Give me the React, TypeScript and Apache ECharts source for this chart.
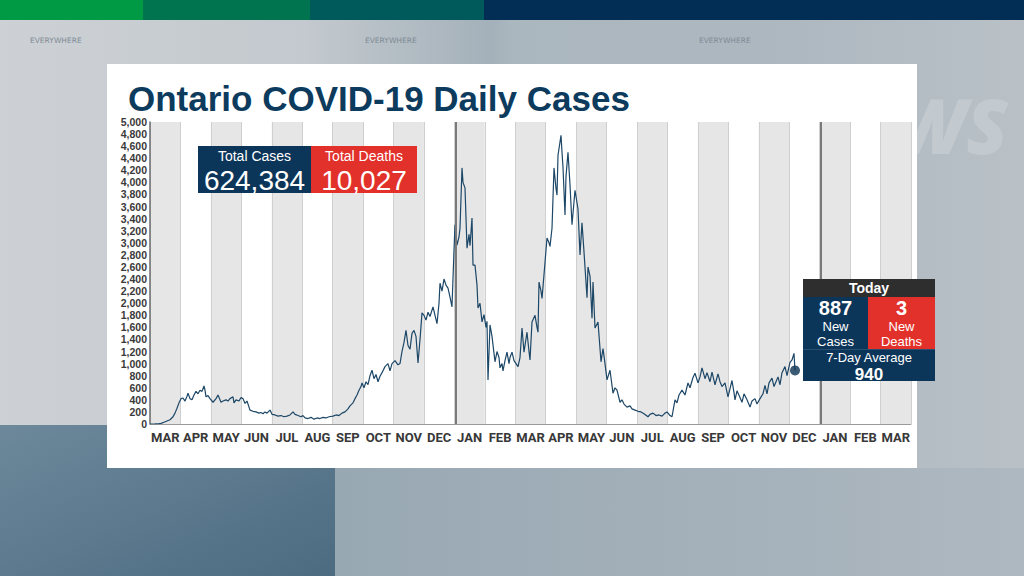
import React, { useEffect, useRef } from 'react';
import * as echarts from 'echarts';

// Month bands, March 2020 – March 2022
const monthLabels = ['MAR', 'APR', 'MAY', 'JUN', 'JUL', 'AUG', 'SEP', 'OCT', 'NOV', 'DEC', 'JAN', 'FEB', 'MAR', 'APR', 'MAY', 'JUN', 'JUL', 'AUG', 'SEP', 'OCT', 'NOV', 'DEC', 'JAN', 'FEB', 'MAR'];
// x values are days since 2020-03-01; axis runs to 2022-04-01
const totalDays = 761;
const yearStartDays = [306, 671];

// [day since 2020-03-01, daily cases]
const dailyCases: [number, number][] = [
  [0, 0], [5, 2], [9, 5], [11, 10], [14, 30], [17, 50], [20, 70], [23, 120], [25, 180], [27, 260], [29, 350],
  [31, 420], [33, 430], [35, 380], [37, 460], [38, 510], [40, 420], [42, 400], [44, 480], [46, 540], [48, 500],
  [50, 560], [52, 540], [54, 630], [55, 560], [56, 450], [58, 470], [60, 420], [63, 360], [66, 420], [68, 480],
  [70, 400], [71, 360], [73, 380], [76, 400], [78, 380], [80, 420], [83, 450], [84, 350], [86, 400], [89, 380],
  [91, 440], [93, 420], [95, 340], [97, 380], [100, 230], [103, 210], [106, 200], [109, 180], [111, 190],
  [113, 170], [115, 200], [117, 180], [120, 230], [122, 160], [125, 150], [128, 130], [131, 140], [134, 120],
  [137, 130], [140, 150], [143, 200], [145, 160], [148, 140], [151, 120], [153, 140], [155, 100], [158, 90],
  [161, 110], [164, 80], [167, 100], [170, 90], [173, 110], [176, 100], [179, 120], [183, 130], [186, 150],
  [189, 140], [192, 180], [195, 200], [198, 250], [200, 300], [203, 350], [205, 420], [207, 480], [209, 560],
  [211, 620], [212, 680], [214, 600], [216, 700], [218, 650], [220, 800], [222, 890], [224, 750], [226, 820],
  [228, 700], [230, 790], [232, 850], [235, 950], [238, 1000], [240, 880], [242, 1000], [245, 1050], [248, 980],
  [250, 1000], [252, 1200], [254, 1350], [256, 1550], [258, 1300], [260, 1240], [262, 1500], [264, 1550],
  [266, 1450], [268, 1010], [270, 1400], [272, 1840], [274, 1800], [276, 1720], [278, 1850], [280, 1780],
  [283, 1940], [285, 1800], [287, 1660], [289, 2000], [290, 2330], [292, 2200], [294, 2400], [296, 2300],
  [298, 2250], [300, 2100], [302, 1940], [304, 2880], [305, 3300], [307, 2960], [309, 3100], [310, 3240],
  [312, 4240], [313, 4000], [315, 3910], [317, 2910], [319, 3140], [320, 2950], [322, 3410], [323, 2630],
  [325, 2630], [327, 2300], [328, 1920], [330, 2000], [332, 1690], [334, 1810], [336, 1600], [337, 1700],
  [338, 730], [340, 1640], [342, 1450], [343, 1310], [345, 1030], [347, 1200], [349, 1100], [350, 930],
  [352, 1000], [353, 880], [355, 1050], [357, 1190], [359, 1000], [360, 1100], [362, 1190], [364, 1050],
  [366, 1000], [368, 950], [370, 1100], [372, 1590], [374, 1190], [377, 1520], [379, 1200], [380, 1060],
  [382, 1690], [385, 1800], [387, 1600], [388, 1520], [389, 2350], [391, 2200], [392, 2080], [394, 2470],
  [397, 3080], [399, 3000], [400, 2940], [402, 3240], [404, 4240], [406, 3900], [407, 3790], [408, 4450],
  [411, 4780], [412, 4500], [413, 4250], [415, 3460], [416, 4100], [418, 4500], [420, 3960], [422, 3300],
  [425, 3870], [428, 3560], [430, 2800], [432, 3330], [434, 2850], [437, 2090], [438, 2600], [440, 2450],
  [442, 1750], [443, 2350], [445, 1590], [448, 1690], [451, 1030], [453, 1250], [455, 1000], [457, 730],
  [460, 890], [463, 510], [465, 600], [467, 560], [470, 360], [472, 400], [474, 330], [477, 280], [480, 300],
  [482, 250], [485, 230], [488, 210], [491, 200], [494, 170], [498, 120], [500, 160], [503, 180], [506, 140],
  [509, 150], [512, 130], [515, 180], [517, 200], [520, 140], [522, 120], [525, 400], [527, 350], [529, 480],
  [532, 560], [535, 480], [538, 680], [540, 600], [543, 770], [545, 840], [548, 680], [550, 780], [552, 930],
  [555, 750], [557, 850], [560, 700], [562, 860], [565, 650], [568, 830], [570, 700], [572, 620], [575, 680],
  [578, 450], [582, 720], [584, 520], [585, 400], [587, 550], [590, 440], [592, 360], [594, 500], [597, 400],
  [600, 280], [602, 380], [605, 420], [607, 330], [610, 420], [613, 500], [615, 640], [617, 500], [619, 680],
  [622, 760], [624, 620], [626, 700], [628, 780], [630, 650], [632, 850], [635, 950], [637, 800], [640, 1020],
  [642, 1060], [644, 1170], [645, 887],
];
const todayPoint: [number, number] = [645, 887];

const totalLabels = ['Total Cases', 'Total Deaths'];
const totalValues = ['624,384', '10,027'];
const todayNumbers = ['887', '3'];
const todayNames = [['New', 'Cases'], ['New', 'Deaths']];
const averageLabel = '7-Day Average';
const averageValue = '940';

const NAVY = '#0c3659';
const RED = '#e2302a';
const SANS = '"Liberation Sans", Arial, sans-serif';
const NARROW = 'Roboto, "Liberation Sans", sans-serif';

function buildGraphic() {
  const bg: any[] = [
    {
      type: 'rect', z: -20, shape: { x: 0, y: 0, width: 1024, height: 576 },
      style: {
        fill: new echarts.graphic.LinearGradient(0, 0, 1, 0, [
          { offset: 0, color: '#cdd1d5' }, { offset: 0.3, color: '#c3c9ce' },
          { offset: 0.48, color: '#a4b1ba' }, { offset: 0.5, color: '#abb7bf' },
          { offset: 0.75, color: '#adb7bf' }, { offset: 1, color: '#b9c1c7' },
        ]),
      },
    },
    {
      type: 'rect', z: -19, shape: { x: 0, y: 425, width: 335, height: 151 },
      style: {
        fill: new echarts.graphic.LinearGradient(0, 0, 1, 1, [
          { offset: 0, color: '#6d889b' }, { offset: 1, color: '#4c6b81' },
        ]),
      },
    },
    {
      type: 'rect', z: -19, shape: { x: 335, y: 468, width: 689, height: 108 },
      style: {
        fill: new echarts.graphic.LinearGradient(0, 0, 1, 0, [
          { offset: 0, color: '#98a8b3' }, { offset: 1, color: '#aeb8c0' },
        ]),
      },
    },
    { type: 'rect', z: -18, shape: { x: 0, y: 0, width: 143, height: 20 }, style: { fill: '#009a44' } },
    { type: 'rect', z: -18, shape: { x: 143, y: 0, width: 167, height: 20 }, style: { fill: '#00744f' } },
    { type: 'rect', z: -18, shape: { x: 310, y: 0, width: 174, height: 20 }, style: { fill: '#005a5b' } },
    { type: 'rect', z: -18, shape: { x: 484, y: 0, width: 540, height: 20 }, style: { fill: '#022d54' } },
    {
      type: 'text', z: -18, x: 1008, y: 124,
      style: { text: 'NEWS', fill: '#c2c9cf', font: 'italic 900 76px "Open Sans", sans-serif', textAlign: 'right', textVerticalAlign: 'middle' },
    },
    { type: 'rect', z: -15, shape: { x: 107, y: 64, width: 810, height: 404 }, style: { fill: '#ffffff' } },
  ];
  [30, 365, 699].forEach((x) => {
    bg.push({
      type: 'text', z: -17, x, y: 40,
      style: { text: 'EVERYWHERE', fill: '#7f8b95', font: '7.5px "DejaVu Sans", sans-serif', textVerticalAlign: 'middle' },
    });
  });

  const fg: any[] = [
    {
      type: 'text', z: 50, x: 128, y: 98,
      style: { text: 'Ontario COVID-19 Daily Cases', fill: '#0d3b5e', font: `bold 35px ${SANS}`, textVerticalAlign: 'middle' },
    },
    // totals box
    { type: 'rect', z: 50, shape: { x: 198, y: 146, width: 113, height: 47 }, style: { fill: NAVY } },
    { type: 'rect', z: 50, shape: { x: 311, y: 146, width: 106, height: 47 }, style: { fill: RED } },
    // today box
    { type: 'rect', z: 50, shape: { x: 803, y: 279, width: 132, height: 18 }, style: { fill: '#2e2e2e' } },
    { type: 'rect', z: 50, shape: { x: 803, y: 297, width: 65, height: 52 }, style: { fill: NAVY } },
    { type: 'rect', z: 50, shape: { x: 868, y: 297, width: 67, height: 52 }, style: { fill: RED } },
    { type: 'rect', z: 50, shape: { x: 803, y: 349, width: 132, height: 32 }, style: { fill: NAVY } },
    { type: 'line', z: 51, shape: { x1: 803, y1: 349.5, x2: 935, y2: 349.5 }, style: { stroke: '#2a4f6e', lineWidth: 1 } },
  ];
  const totalCenters = [254.5, 364];
  totalLabels.forEach((t, i) => {
    fg.push({ type: 'text', z: 52, x: totalCenters[i], y: 156.3, style: { text: t, fill: '#fff', font: `14px ${SANS}`, textAlign: 'center', textVerticalAlign: 'middle' } });
    fg.push({ type: 'text', z: 52, x: totalCenters[i], y: 180.5, style: { text: totalValues[i], fill: '#fff', font: `28px ${SANS}`, textAlign: 'center', textVerticalAlign: 'middle' } });
  });
  fg.push({ type: 'text', z: 52, x: 869, y: 288, style: { text: 'Today', fill: '#fff', font: `bold 14px ${SANS}`, textAlign: 'center', textVerticalAlign: 'middle' } });
  const todayCenters = [835.5, 901.5];
  todayNumbers.forEach((n, i) => {
    fg.push({ type: 'text', z: 52, x: todayCenters[i], y: 307.5, style: { text: n, fill: '#fff', font: `bold 20px ${SANS}`, textAlign: 'center', textVerticalAlign: 'middle' } });
    todayNames[i].forEach((w, j) => {
      fg.push({ type: 'text', z: 52, x: todayCenters[i], y: 326.5 + j * 15, style: { text: w, fill: '#fff', font: `13px ${SANS}`, textAlign: 'center', textVerticalAlign: 'middle' } });
    });
  });
  fg.push({ type: 'text', z: 52, x: 869, y: 357, style: { text: averageLabel, fill: '#fff', font: `13px ${SANS}`, textAlign: 'center', textVerticalAlign: 'middle' } });
  fg.push({ type: 'text', z: 52, x: 869, y: 374, style: { text: averageValue, fill: '#fff', font: `bold 17px ${SANS}`, textAlign: 'center', textVerticalAlign: 'middle' } });
  return [...bg, ...fg];
}

export default function App() {
  const ref = useRef<HTMLDivElement>(null);
  useEffect(() => {
    if (!ref.current) return;
    const chart = echarts.init(ref.current, undefined, { renderer: 'svg' });
    chart.setOption({
      animation: false,
      backgroundColor: 'transparent',
      grid: { left: 150, right: 113, top: 122, bottom: 152, containLabel: false },
      xAxis: [
        { type: 'value', min: 0, max: totalDays, show: false, splitLine: { show: false } },
        {
          type: 'category', data: monthLabels, boundaryGap: true, position: 'bottom',
          axisLine: { show: true, lineStyle: { color: '#9a9a9a', width: 1 } },
          axisTick: { show: false },
          axisLabel: { interval: 0, color: '#383838', fontFamily: NARROW, fontWeight: 'bold', fontSize: 13, margin: 7 },
          splitArea: { show: true, interval: 0, areaStyle: { color: ['#e6e6e6', '#ffffff'] } },
          splitLine: { show: true, interval: 0, lineStyle: { color: '#cfcfcf', width: 1 } },
        },
      ],
      yAxis: {
        type: 'value', min: 0, max: 5000, interval: 200,
        axisLine: { show: true, lineStyle: { color: '#6b6b6b', width: 1.5 } },
        axisTick: { show: false },
        splitLine: { show: false },
        axisLabel: {
          color: '#3a3a3a', fontFamily: SANS, fontWeight: 'bold', fontSize: 10.5, margin: 3,
          formatter: (v: number) => v.toLocaleString('en-US'),
        },
      },
      series: [
        {
          type: 'line', xAxisIndex: 0, data: dailyCases, showSymbol: false, symbol: 'none',
          lineStyle: { color: '#1d4767', width: 1.2 }, z: 3,
          markLine: {
            silent: true, symbol: 'none', label: { show: false },
            lineStyle: { color: '#7a7a7a', width: 2, type: 'solid' },
            data: yearStartDays.map((d) => ({ xAxis: d })),
          },
        },
        {
          type: 'scatter', xAxisIndex: 0, data: [todayPoint], symbolSize: 10, z: 4,
          itemStyle: { color: '#0b3352' },
        },
      ],
      graphic: buildGraphic(),
    });
    return () => chart.dispose();
  }, []);
  return <div ref={ref} style={{ position: 'absolute', left: 0, top: 0, width: 1024, height: 576 }} />;
}
